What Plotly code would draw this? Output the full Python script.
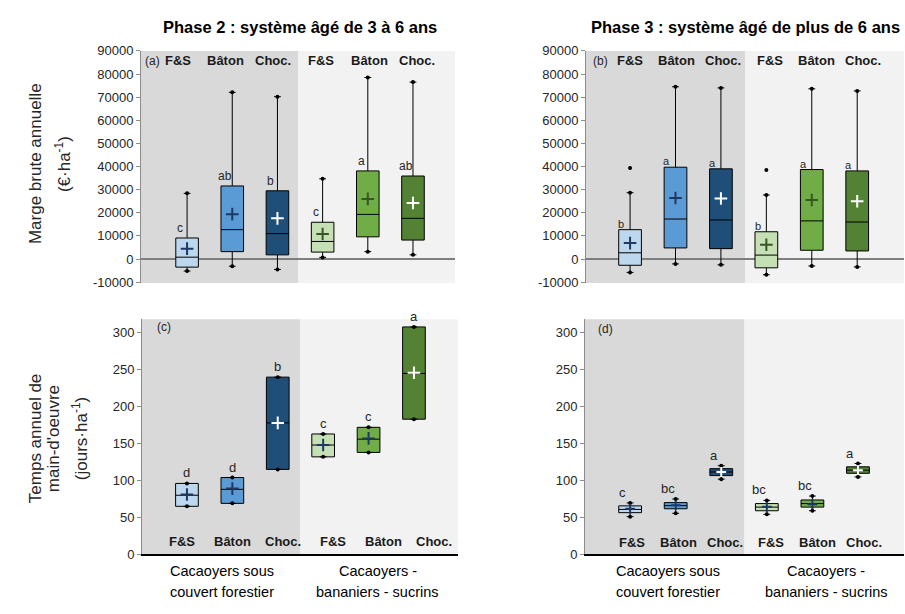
import plotly.graph_objects as go

W, H = 905, 614

categories = ["F&S", "Bâton", "Choc.", "F&S", "Bâton", "Choc."]
box_colors = ["#BDD7EE", "#5B9BD5", "#1F4E79", "#C5E0B4", "#70AD47", "#548235"]

# Panel (a) : Marge brute, phase 2
a_low = [-5200, -3100, -4500, 700, 3200, 1800]
a_q1 = [-3500, 3200, 1800, 3000, 9600, 8200]
a_med = [800, 12700, 11000, 7600, 19300, 17600]
a_q3 = [9100, 31600, 29500, 15900, 38100, 35900]
a_high = [28400, 72100, 70200, 34700, 78500, 76500]
a_mean = [4500, 19400, 17600, 10800, 26000, 24200]
a_letters = ["c", "ab", "b", "c", "a", "ab"]

# Panel (b) : Marge brute, phase 3
b_low = [-5800, -2100, -2500, -6800, -3000, -3400]
b_q1 = [-2700, 4800, 4500, -3800, 3800, 3500]
b_med = [2700, 17300, 16900, 1700, 16500, 16000]
b_q3 = [12700, 39700, 39000, 11800, 38700, 38100]
b_high = [28700, 74500, 74000, 27700, 73600, 72700]
b_mean = [6900, 26400, 26200, 6200, 25500, 25000]
b_outlier = [39400, None, None, 38500, None, None]
b_letters = ["b", "a", "a", "b", "a", "a"]

# Panel (c) : Temps de main-d'oeuvre, phase 2
c_min = [65, 69, 115, 132, 138, 183]
c_med = [80, 88, 178, 148, 156, 245]
c_max = [96, 104, 240, 163, 172, 308]
c_mean = [81, 89, 178, 148, 157, 246]
c_letters = ["d", "d", "b", "c", "c", "a"]

# Panel (d) : Temps de main-d'oeuvre, phase 3
d_low = [51, 55.5, 101.8, 54.2, 59, 104.8]
d_q1 = [56.4, 61.7, 106.6, 59, 63.9, 109.7]
d_med = [60.8, 66, 111.5, 63.9, 68.7, 114]
d_q3 = [65.6, 70, 116, 68.7, 73.6, 118.5]
d_high = [69.6, 74.9, 120, 73, 78.9, 123]
d_mean = [61.7, 66.5, 111.5, 64.3, 67.8, 114]
d_letters = ["c", "bc", "a", "bc", "bc", "a"]

top_ticks = [-10000, 0, 10000, 20000, 30000, 40000, 50000, 60000, 70000, 80000, 90000]
top_ticktext = ["-10000", "0", "10000", "20000", "30000", "40000", "50000", "60000", "70000", "80000", "90000"]
bot_ticks = [0, 50, 100, 150, 200, 250, 300]

group_labels = [("Cacaoyers sous", "couvert forestier"), ("Cacaoyers -", "bananiers - sucrins")]

NAVY = "#1F3864"
DGREEN = "#375623"
WHITE = "#FFFFFF"
a_mean_col = [NAVY, NAVY, WHITE, DGREEN, DGREEN, WHITE]
c_mean_col = [NAVY, NAVY, WHITE, NAVY, NAVY, WHITE]

FONT = "Liberation Sans, Arial, sans-serif"
TXT = "#262626"

fig = go.Figure()


def xd(l, r):
    return [l / W, r / W]


def yd(top, bottom):
    return [1 - bottom / H, 1 - top / H]


def add_panel(n, low, q1, med, q3, high, mean, mean_col, msize):
    xa = "x" if n == 1 else "x%d" % n
    ya = "y" if n == 1 else "y%d" % n
    for i in range(len(categories)):
        fig.add_trace(go.Box(
            x=[i], q1=[q1[i]], median=[med[i]], q3=[q3[i]],
            lowerfence=[low[i]], upperfence=[high[i]],
            fillcolor=box_colors[i], line=dict(color="#000000", width=1),
            width=0.5, whiskerwidth=0.3, boxpoints=False,
            showlegend=False, hoverinfo="skip", xaxis=xa, yaxis=ya))
        fig.add_trace(go.Scatter(
            x=[i, i], y=[low[i], high[i]], mode="markers",
            marker=dict(size=4, color="#000000"),
            showlegend=False, hoverinfo="skip", xaxis=xa, yaxis=ya))
        fig.add_trace(go.Scatter(
            x=[i], y=[mean[i]], mode="markers",
            marker=dict(symbol="cross-thin", size=msize,
                        line=dict(width=2, color=mean_col[i])),
            showlegend=False, hoverinfo="skip", xaxis=xa, yaxis=ya))


add_panel(1, a_low, a_q1, a_med, a_q3, a_high, a_mean, a_mean_col, 9)
add_panel(2, b_low, b_q1, b_med, b_q3, b_high, b_mean, a_mean_col, 9)
add_panel(3, c_min, c_min, c_med, c_max, c_max, c_mean, c_mean_col, 9)
add_panel(4, d_low, d_q1, d_med, d_q3, d_high, d_mean, c_mean_col, 7)

# outliers panel (b)
ox = [i for i, v in enumerate(b_outlier) if v is not None]
oy = [v for v in b_outlier if v is not None]
fig.add_trace(go.Scatter(x=ox, y=oy, mode="markers",
                         marker=dict(size=4, color="#000000"),
                         showlegend=False, hoverinfo="skip", xaxis="x2", yaxis="y2"))

panels = {
    1: dict(x=(141, 455), y=(45, 283), xr=[-1.02, 5.93], yr=[-10400, 90000]),
    2: dict(x=(586, 904), y=(45, 283), xr=[-0.97, 6.03], yr=[-10400, 90000]),
    3: dict(x=(142, 458), y=(320, 561), xr=[-0.99, 5.97], yr=[0, 318.5]),
    4: dict(x=(585, 904), y=(320, 561), xr=[-0.99, 6.01], yr=[0, 318.5]),
}

layout = dict(
    width=W, height=H, margin=dict(l=0, r=0, t=0, b=0),
    paper_bgcolor="white", plot_bgcolor="rgba(0,0,0,0)",
    font=dict(family=FONT, color=TXT, size=13),
    showlegend=False,
)
shapes = []
for n, p in panels.items():
    sfx = "" if n == 1 else str(n)
    top = n <= 2
    layout["xaxis" + sfx] = dict(
        domain=xd(*p["x"]), range=p["xr"], anchor="y" + sfx,
        showgrid=False, zeroline=False, showticklabels=False, ticks="",
        showline=not top, linecolor="#000000", linewidth=1.5,
        fixedrange=True)
    ydict = dict(
        domain=yd(*p["y"]), range=p["yr"], anchor="x" + sfx,
        showgrid=False, showline=True, linecolor="#8C8C8C", linewidth=1,
        ticks="outside", ticklen=4, tickcolor="#8C8C8C",
        tickfont=dict(size=13, color=TXT), fixedrange=True)
    if top:
        ydict.update(tickvals=top_ticks, ticktext=top_ticktext,
                     zeroline=True, zerolinecolor="#7F7F7F", zerolinewidth=1.5)
    else:
        ydict.update(tickvals=bot_ticks, zeroline=False)
    layout["yaxis" + sfx] = ydict
    xref = "x" + sfx + " domain"
    yref = "y" + sfx + " domain"
    shapes.append(dict(type="rect", xref=xref, yref=yref, x0=0, x1=0.5, y0=0, y1=1,
                       fillcolor="#D9D9D9", line=dict(width=0), layer="below"))
    shapes.append(dict(type="rect", xref=xref, yref=yref, x0=0.5, x1=1, y0=0, y1=1,
                       fillcolor="#F2F2F2", line=dict(width=0), layer="below"))
layout["shapes"] = shapes

ann = []

# category labels (start, step in category units; y in domain fraction)
cat_pos = {1: (-0.21, 1.06, 0.958), 2: (0.0, 1.025, 0.958),
           3: (-0.105, 1.108, 0.055), 4: (0.04, 1.018, 0.05)}
for n, (st, step, yy) in cat_pos.items():
    sfx = "" if n == 1 else str(n)
    for i, c in enumerate(categories):
        ann.append(dict(xref="x" + sfx, yref="y" + sfx + " domain",
                        x=st + step * i, y=yy, text="<b>%s</b>" % c,
                        showarrow=False, font=dict(size=13, color="#1a1a1a"),
                        xanchor="center", yanchor="middle"))

# significance letters
letter_sets = [
    ("", a_letters, a_q3, -0.15, 12, 1),
    ("2", b_letters, b_q3, -0.19, 11, -2),
    ("3", c_letters, c_max, 0.0, 13, 1),
    ("4", d_letters, d_high, -0.17, 13, 1),
]
for sfx, letters, ys, off, fs, ysh in letter_sets:
    for i, l in enumerate(letters):
        ann.append(dict(xref="x" + sfx, yref="y" + sfx, x=i + off, y=ys[i],
                        text=l, showarrow=False, font=dict(size=fs, color=TXT),
                        xanchor="center", yanchor="bottom", yshift=ysh))

# panel tags
for sfx, tag, xx, yy in [("", "(a)", 0.005, 0.958), ("2", "(b)", 0.015, 0.958),
                         ("3", "(c)", 0.04, 0.967), ("4", "(d)", 0.035, 0.958)]:
    ann.append(dict(xref="x" + sfx + " domain", yref="y" + sfx + " domain",
                    x=xx, y=yy, text=tag, showarrow=False,
                    font=dict(size=12, color=TXT), xanchor="left", yanchor="middle"))

# phase titles
ann.append(dict(xref="paper", yref="paper", x=300 / W, y=1 - 20 / H,
                text="<b>Phase 2 : système âgé de 3 à 6 ans</b>", showarrow=False,
                font=dict(size=16.5, color="#000000"), xanchor="center", yanchor="middle"))
ann.append(dict(xref="paper", yref="paper", x=745 / W, y=1 - 20 / H,
                text="<b>Phase 3 : système âgé de plus de 6 ans</b>", showarrow=False,
                font=dict(size=16.5, color="#000000"), xanchor="center", yanchor="middle"))

# y-axis titles
for txt, px in [("Marge brute annuelle", 35), ("(€·ha<sup>-1</sup>)", 63)]:
    ann.append(dict(xref="paper", yref="paper", x=px / W, y=1 - 161 / H, text=txt,
                    textangle=-90, showarrow=False, font=dict(size=17, color=TXT),
                    xanchor="center", yanchor="middle"))
for txt, px in [("Temps annuel de", 35), ("main-d'oeuvre", 53), ("(jours·ha<sup>-1</sup>)", 80)]:
    ann.append(dict(xref="paper", yref="paper", x=px / W, y=1 - 443 / H, text=txt,
                    textangle=-90, showarrow=False, font=dict(size=17, color=TXT),
                    xanchor="center", yanchor="middle"))

# group labels under the lower panels
for sfx, xs in [("3", [0.78, 4.2]), ("4", [0.83, 4.3])]:
    for (l1, l2), xx in zip(group_labels, xs):
        for txt, py in [(l1, 578), (l2, 600)]:
            ann.append(dict(xref="x" + sfx, yref="paper", x=xx, y=1 - py / H, text=txt,
                            showarrow=False,
                            font=dict(size=14.5, color="#000000", family=FONT),
                            xanchor="center", yanchor="middle"))

layout["annotations"] = ann
fig.update_layout(**layout)
fig.write_html("out.html")
